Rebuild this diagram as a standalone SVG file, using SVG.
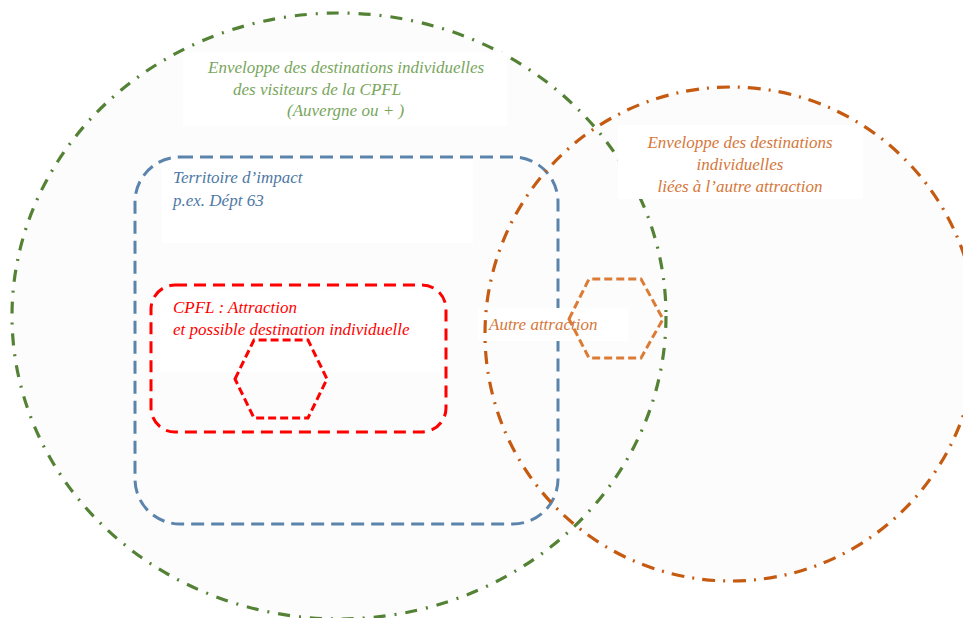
<svg xmlns="http://www.w3.org/2000/svg" width="963" height="618" viewBox="0 0 963 618">
<style>
.t{font-family:"Liberation Serif","DejaVu Serif","Times New Roman",serif;font-style:italic;font-size:17px}
.box{fill:#ffffff;stroke:none}
.bg{fill:#fcfcfc;stroke:none}
.gl{fill:none;stroke:#548235;stroke-width:3.2;stroke-dasharray:12 9 2 9}
.ol{fill:none;stroke:#C55A11;stroke-width:3.2;stroke-dasharray:13 8 2 8}
</style>
<rect width="963" height="618" fill="#ffffff"/>
<g id="fills">
<ellipse class="bg" cx="339" cy="316" rx="327" ry="303"/>
<ellipse class="bg" cx="731" cy="334" rx="246" ry="247"/>
</g>
<g id="envelope-cpfl">
<ellipse class="gl" cx="339" cy="316" rx="327" ry="303"/>
</g>
<g id="text-boxes">
<rect class="box" x="183" y="52" width="324" height="74"/>
<rect class="box" x="618" y="125" width="245" height="74"/>
<rect class="box" x="162" y="160" width="311" height="83"/>
<rect class="box" x="160" y="290" width="280" height="82"/>
</g>
<g id="territoire">
<rect x="135" y="157" width="423" height="367" rx="45" ry="45" fill="none" stroke="#5B84AC" stroke-width="3" stroke-dasharray="13 7"/>
</g>
<g id="cpfl">
<rect x="151" y="285" width="295" height="147" rx="24" ry="24" fill="none" stroke="#FF0000" stroke-width="3" stroke-dasharray="12 7"/>
<polygon points="235,379 254,340 308,340 327,379 308,418 254,418" fill="none" stroke="#FF0000" stroke-width="3" stroke-dasharray="8 4"/>
</g>
<g id="autre-box">
<rect class="box" x="478" y="308" width="150" height="33"/>
</g>
<g id="envelope-autre">
<ellipse class="ol" cx="731" cy="334" rx="246" ry="247"/>
</g>
<g id="autre-attraction">
<polygon points="569,319 589,279 641,279 663,319 641,358 589,358" fill="none" stroke="#DB7B36" stroke-width="3" stroke-dasharray="8 4"/>
</g>
<g id="labels">
<text class="t" fill="#78A65C"><tspan x="208" y="73">Enveloppe des destinations individuelles</tspan><tspan x="233" y="95">des visiteurs de la CPFL</tspan><tspan x="287" y="116">(Auvergne ou + )</tspan></text>
<text class="t" fill="#D5773A" text-anchor="middle"><tspan x="740" y="148">Enveloppe des destinations</tspan><tspan x="740" y="170">individuelles</tspan><tspan x="740" y="192">liées à l’autre attraction</tspan></text>
<text class="t" fill="#4E79A5"><tspan x="173" y="183">Territoire d’impact</tspan><tspan x="173" y="206">p.ex. Dépt 63</tspan></text>
<text class="t" fill="#FF0000"><tspan x="173" y="313">CPFL : Attraction</tspan><tspan x="173" y="335">et possible destination individuelle</tspan></text>
<text class="t" fill="#D5773A" x="489" y="330">Autre attraction</text>
</g>
</svg>
